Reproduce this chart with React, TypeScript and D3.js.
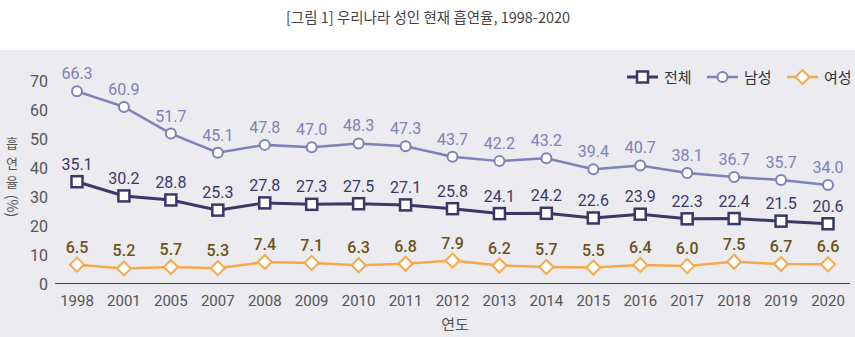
import React from "react";
import * as d3 from "d3";

const years = ["1998","2001","2005","2007","2008","2009","2010","2011","2012","2013","2014","2015","2016","2017","2018","2019","2020"];
const total = [35.1,30.2,28.8,25.3,27.8,27.3,27.5,27.1,25.8,24.1,24.2,22.6,23.9,22.3,22.4,21.5,20.6];
const male = [66.3,60.9,51.7,45.1,47.8,47.0,48.3,47.3,43.7,42.2,43.2,39.4,40.7,38.1,36.7,35.7,34.0];
const female = [6.5,5.2,5.7,5.3,7.4,7.1,6.3,6.8,7.9,6.2,5.7,5.5,6.4,6.0,7.5,6.7,6.6];
const yTicks = [0,10,20,30,40,50,60,70];
const seriesNames = ["전체","남성","여성"];
const yLabelChars = ["흡","연","율"];
const yLabelUnit = "(%)";

const W = 855, H = 337;
const C_TOTAL = "#3b3868";
const C_MALE = "#7d82b8";
const C_FEMALE = "#f4aa4c";
const C_FEMALE_LABEL = "#6a5317";
const BG = "#ebebf0";
const numFont = "Roboto, 'Liberation Sans', Arial, sans-serif";
const krFont = "'Noto Sans CJK KR', 'Noto Sans', sans-serif";

export default function App() {
  const x = d3.scalePoint<string>().domain(years).range([77, 828]);
  const y = d3.scaleLinear().domain([0, 70]).range([283.5, 80.5]);
  const line = d3.line<number>().x((_, i) => x(years[i])!).y(d => y(d));

  const series = [
    { name: seriesNames[0], data: total, color: C_TOTAL, label: C_TOTAL, marker: "square", width: 3 },
    { name: seriesNames[1], data: male, color: C_MALE, label: C_MALE, marker: "circle", width: 2.5 },
    { name: seriesNames[2], data: female, color: C_FEMALE, label: C_FEMALE_LABEL, marker: "diamond", width: 2.5 },
  ];

  const marker = (type: string, cx: number, cy: number, color: string, key: string) => {
    if (type === "square") return <rect key={key} x={cx - 5.5} y={cy - 5.5} width={11} height={11} fill="#fff" stroke={color} strokeWidth={2.5} />;
    if (type === "circle") return <circle key={key} cx={cx} cy={cy} r={5} fill="#fff" stroke={color} strokeWidth={2} />;
    return <path key={key} d={`M${cx},${cy - 7}L${cx + 7},${cy}L${cx},${cy + 7}L${cx - 7},${cy}Z`} fill="#fff" stroke={color} strokeWidth={2} />;
  };

  const legendX = [627, 707, 787];

  return (
    <svg width={W} height={H} style={{ position: "absolute", left: 0, top: 0, display: "block" }}>
      <rect x={0} y={0} width={W} height={H} fill="#fff" />
      <rect x={0} y={50} width={W} height={H - 50} fill={BG} />
      <text x={428} y={23} textAnchor="middle" fontFamily={krFont} fontSize={14.5} fill="#444">[그림 1] 우리나라 성인 현재 흡연율, 1998-2020</text>

      {yTicks.map(t => (
        <text key={t} x={48} y={y(t) + 6} textAnchor="end" fontFamily={numFont} fontSize={16} fill="#555">{t}</text>
      ))}
      <line x1={55} x2={850} y1={283.5} y2={283.5} stroke="#444" strokeWidth={1.2} />
      {years.map(yr => (
        <text key={yr} x={x(yr)!} y={306} textAnchor="middle" fontFamily={numFont} fontSize={15} fill="#555">{yr}</text>
      ))}
      <text x={455} y={330} textAnchor="middle" fontFamily={krFont} fontSize={15} fill="#555">연도</text>
      <text x={12} y={148} textAnchor="middle" fontFamily={krFont} fontSize={13} fill="#555">
        {yLabelChars.map((c, i) => (
          <tspan key={"yl" + i} x={12} dy={i === 0 ? 0 : 19.5}>{c}</tspan>
        ))}
      </text>
      <text transform="translate(7,206) rotate(90)" textAnchor="middle" fontFamily={krFont} fontSize={14} fill="#555">{yLabelUnit}</text>

      {series.map(s => (
        <g key={s.name}>
          <path d={line(s.data)!} fill="none" stroke={s.color} strokeWidth={s.width} />
          {s.data.map((v, i) => marker(s.marker, x(years[i])!, y(v), s.color, s.name + i))}
          {s.data.map((v, i) => (
            <text key={"l" + i} x={x(years[i])!} y={y(v) - 12} textAnchor="middle" fontFamily={numFont} fontSize={16}
              fontWeight={s.marker === "diamond" ? 500 : 400} fill={s.label}>{v.toFixed(1)}</text>
          ))}
        </g>
      ))}

      {series.map((s, i) => (
        <g key={"lg" + i}>
          <line x1={legendX[i]} x2={legendX[i] + 31} y1={77} y2={77} stroke={s.color} strokeWidth={s.width} />
          {marker(s.marker, legendX[i] + 15.5, 77, s.color, "lm" + i)}
          <text x={legendX[i] + 37} y={82.5} fontFamily={krFont} fontSize={15} fill="#333">{s.name}</text>
        </g>
      ))}
    </svg>
  );
}
